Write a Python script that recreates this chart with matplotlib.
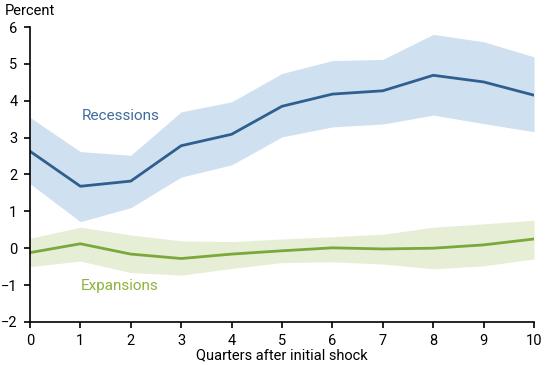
import matplotlib
matplotlib.use("Agg")
import matplotlib.pyplot as plt

quarters = [0, 1, 2, 3, 4, 5, 6, 7, 8, 9, 10]
rec_mean = [2.63, 1.68, 1.82, 2.78, 3.09, 3.85, 4.18, 4.27, 4.69, 4.51, 4.15]
rec_upper = [3.55, 2.62, 2.52, 3.70, 3.97, 4.74, 5.09, 5.12, 5.80, 5.60, 5.19]
rec_lower = [1.75, 0.72, 1.10, 1.93, 2.26, 3.02, 3.29, 3.37, 3.61, 3.38, 3.16]
exp_mean = [-0.12, 0.12, -0.16, -0.28, -0.16, -0.07, 0.01, -0.02, 0.00, 0.09, 0.25]
exp_upper = [0.27, 0.57, 0.36, 0.20, 0.18, 0.25, 0.31, 0.38, 0.57, 0.66, 0.76]
exp_lower = [-0.50, -0.35, -0.66, -0.73, -0.55, -0.39, -0.37, -0.43, -0.56, -0.48, -0.29]
yticks = [-2, -1, 0, 1, 2, 3, 4, 5, 6]

plt.rcParams['font.family'] = ['Roboto', 'DejaVu Sans']

fig = plt.figure(figsize=(5.5, 3.65), dpi=100)
ax = fig.add_axes([0.0545, 0.118, 0.9165, 0.808])

ax.fill_between(quarters, rec_lower, rec_upper, color='#cfe0f0', linewidth=0)
ax.fill_between(quarters, exp_lower, exp_upper, color='#e6efd6', linewidth=0)
ax.plot(quarters, rec_mean, color='#2f5f8f', linewidth=2)
ax.plot(quarters, exp_mean, color='#7aa83a', linewidth=2)

ax.text(1.79, 3.58, 'Recessions', color='#3f6c9c', fontsize=11, ha='center', va='center')
ax.text(1.78, -1.02, 'Expansions', color='#8db43e', fontsize=11, ha='center', va='center')

ax.set_xlim(0, 10)
ax.set_ylim(-2, 6)
ax.set_xticks(quarters)
ax.set_yticks(yticks)
for s in ['top', 'right']:
    ax.spines[s].set_visible(False)
for s in ['left', 'bottom']:
    ax.spines[s].set_linewidth(1.2)
    ax.spines[s].set_color('black')
ax.tick_params(axis='both', labelsize=10.5, length=4, width=1.2, colors='black', pad=5)
ax.set_xlabel('Quarters after initial shock', fontsize=10.5, labelpad=0)
fig.text(0.008, 0.99, 'Percent', fontsize=10.5, ha='left', va='top')

fig.savefig('out.png', dpi=100)
